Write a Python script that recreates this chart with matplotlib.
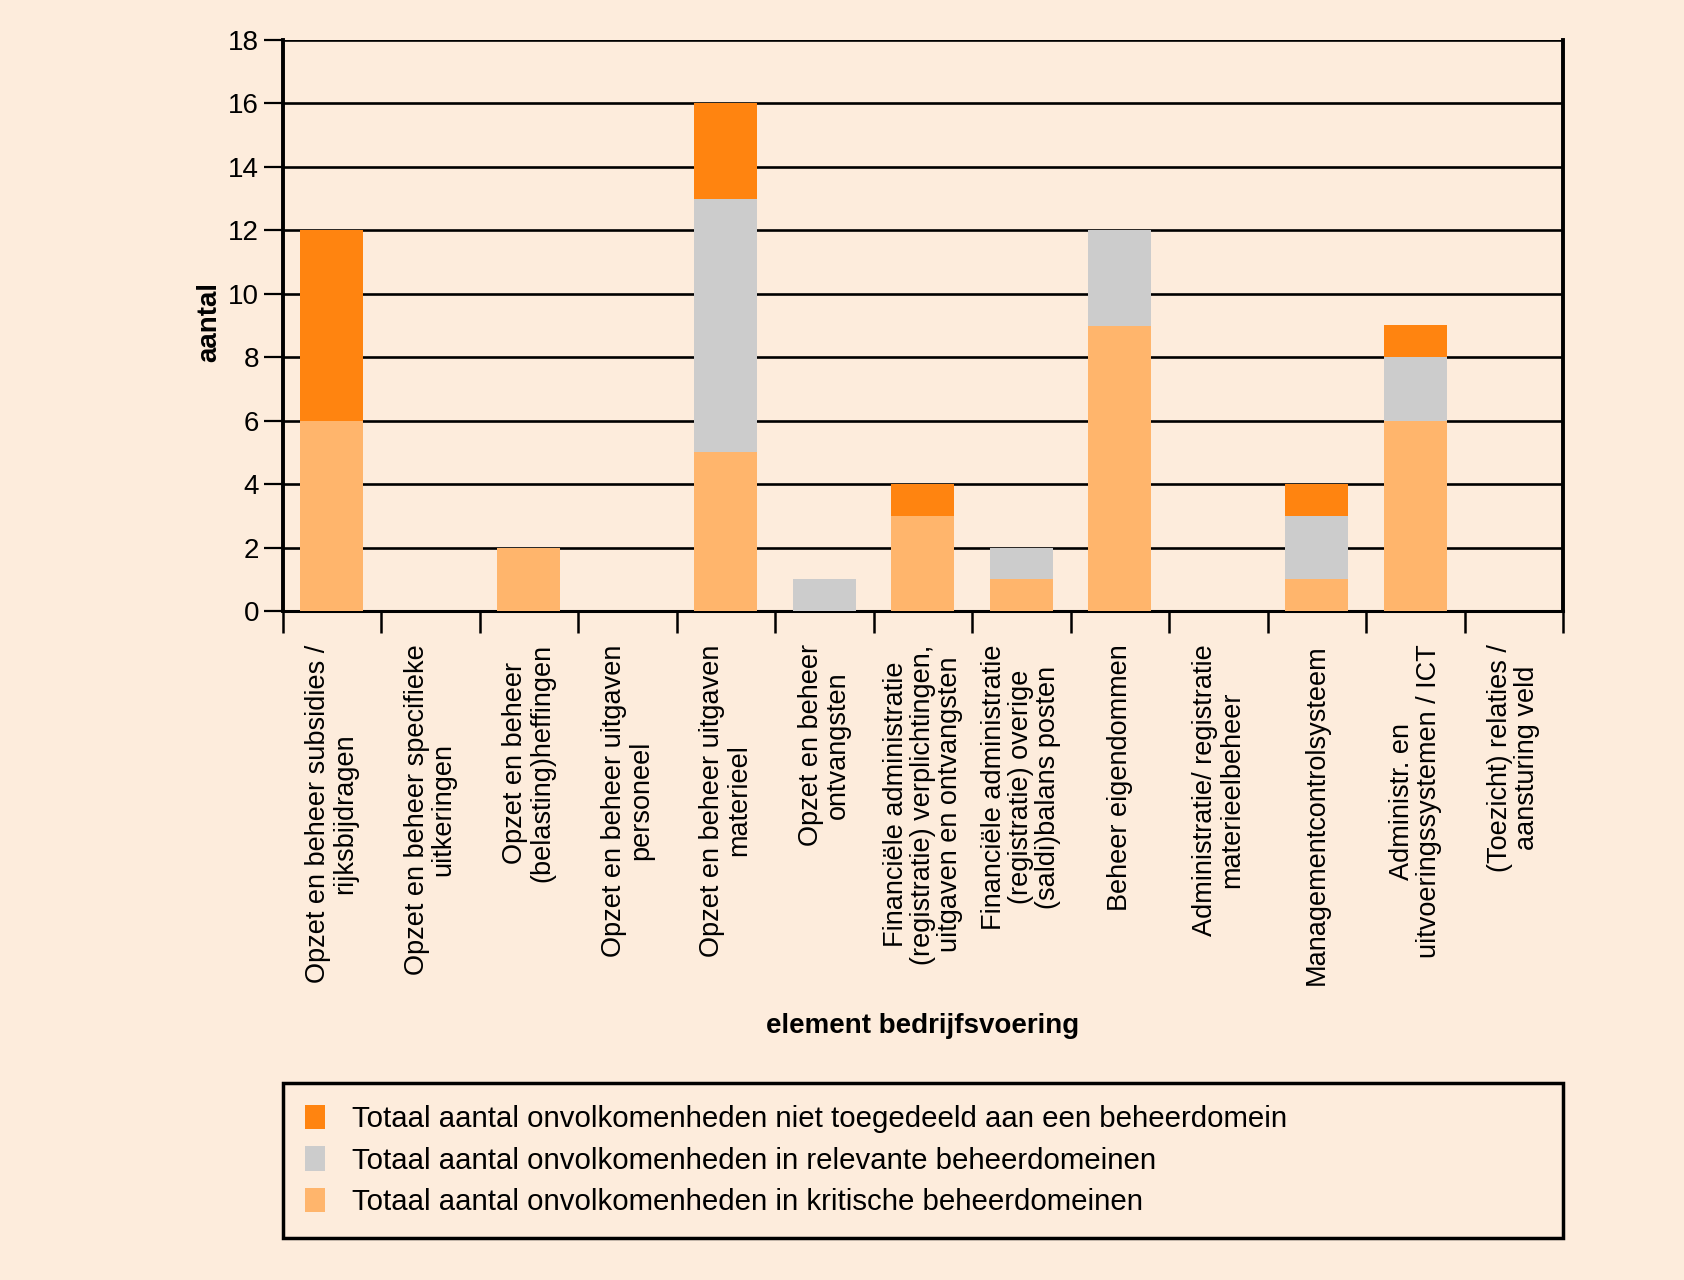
import numpy as np
import matplotlib
matplotlib.use("Agg")
import matplotlib.pyplot as plt
from matplotlib.patches import Patch

plt.rcParams['font.family'] = ['Liberation Sans', 'DejaVu Sans']

categories = [
    "Opzet en beheer subsidies /\nrijksbijdragen",
    "Opzet en beheer specifieke\nuitkeringen",
    "Opzet en beheer\n(belasting)heffingen",
    "Opzet en beheer uitgaven\npersoneel",
    "Opzet en beheer uitgaven\nmaterieel",
    "Opzet en beheer\nontvangsten",
    "Financiële administratie\n(registratie) verplichtingen,\nuitgaven en ontvangsten",
    "Financiële administratie\n(registratie) overige\n(saldi)balans posten",
    "Beheer eigendommen",
    "Administratie/ registratie\nmaterieelbeheer",
    "Managementcontrolsysteem",
    "Administr. en\nuitvoeringssystemen / ICT",
    "(Toezicht) relaties /\naansturing veld",
]
kritisch = [6, 0, 2, 0, 5, 0, 3, 1, 9, 0, 1, 6, 0]
relevant = [0, 0, 0, 0, 8, 1, 0, 1, 3, 0, 2, 2, 0]
niet_toegedeeld = [6, 0, 0, 0, 3, 0, 1, 0, 0, 0, 1, 1, 0]

legend_labels = [
    "Totaal aantal onvolkomenheden niet toegedeeld aan een beheerdomein",
    "Totaal aantal onvolkomenheden in relevante beheerdomeinen",
    "Totaal aantal onvolkomenheden in kritische beheerdomeinen",
]

bg = "#FDECDC"
c_kritisch = "#FFB56C"
c_relevant = "#CCCCCC"
c_niet = "#FF8410"

fig = plt.figure(figsize=(16.84, 12.80), dpi=100, facecolor=bg)
ax = fig.add_axes([282.5 / 1684, 1 - 611 / 1280, (1563 - 282.5) / 1684, (611 - 40) / 1280])
ax.set_facecolor(bg)

x = np.arange(len(categories))
k = np.array(kritisch)
r = np.array(relevant)
n = np.array(niet_toegedeeld)
w = 0.64
ax.bar(x, k, w, color=c_kritisch, zorder=3)
ax.bar(x, r, w, bottom=k, color=c_relevant, zorder=3)
ax.bar(x, n, w, bottom=k + r, color=c_niet, zorder=3)

ax.set_xlim(-0.5, len(categories) - 0.5)
ax.set_ylim(0, 18)
ax.set_yticks(np.arange(0, 19, 2))
# horizontal grid lines, drawn under the bars
for yv in np.arange(2, 19, 2):
    ax.axhline(yv, color="black", lw=1.9, zorder=1)

for s in ["left", "right"]:
    ax.spines[s].set_linewidth(2.8)
ax.spines["bottom"].set_linewidth(2.2)
ax.spines["top"].set_visible(False)

ax.tick_params(axis="y", length=14, width=1.6, labelsize=20, pad=3)
ax.set_xticks(x)
ax.set_xticklabels(categories, rotation=90, ha="center", va="top",
                   multialignment="center", fontsize=19.5, linespacing=1.05)
ax.tick_params(axis="x", which="major", length=0, pad=24)
# category separators
ax.set_xticks(np.arange(-0.5, len(categories), 1), minor=True)
ax.tick_params(axis="x", which="minor", length=16, width=1.8)

fig.text(209 / 1684, 1 - 322 / 1280, "aantal", rotation=90, fontsize=20,
         fontweight="bold", ha="center", va="center")
fig.text(923 / 1684, 1 - 1026 / 1280, "element bedrijfsvoering", fontsize=20,
         fontweight="bold", ha="center", va="center")

handles = [Patch(facecolor=c_niet), Patch(facecolor=c_relevant), Patch(facecolor=c_kritisch)]
leg = fig.legend(handles, legend_labels,
                 bbox_to_anchor=(282.5 / 1684, 1 - 1238 / 1280, (1563 - 282.5) / 1684, 155 / 1280),
                 loc="center left", mode="expand", fontsize=21.2, frameon=True,
                 fancybox=False, facecolor=bg, edgecolor="black", framealpha=1,
                 borderaxespad=0, handlelength=0.7, handleheight=0.9, handletextpad=0.9,
                 labelspacing=0.45, borderpad=0.75)
leg.get_frame().set_linewidth(2.5)

fig.savefig("out.png", dpi=100, facecolor=bg)
